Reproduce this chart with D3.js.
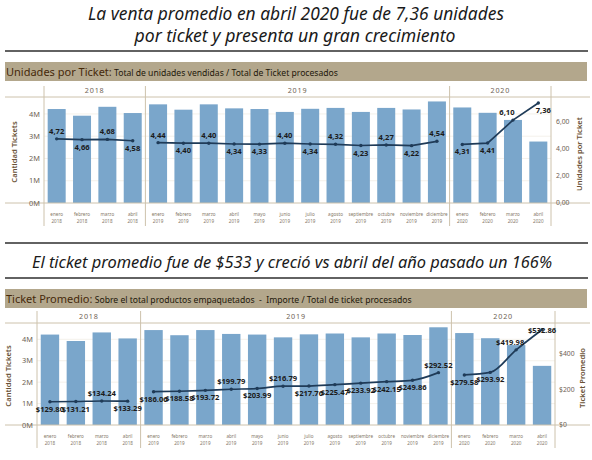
<!DOCTYPE html>
<html>
<head>
<meta charset="utf-8">
<script src="https://cdn.jsdelivr.net/npm/d3@7"></script>
<style>
  body { margin: 0; background: #fff; }
  text { font-family: "Noto Sans", "Open Sans", sans-serif; }
</style>
</head>
<body>
<script>
// data
const monthNames = ["enero", "febrero", "marzo", "abril",
  "enero", "febrero", "marzo", "abril", "mayo", "junio", "julio", "agosto",
  "septiembre", "octubre", "noviembre", "diciembre",
  "enero", "febrero", "marzo", "abril"];
const monthYears = ["2018", "2018", "2018", "2018",
  "2019", "2019", "2019", "2019", "2019", "2019", "2019", "2019", "2019", "2019", "2019", "2019",
  "2020", "2020", "2020", "2020"];
const yearGroups = ["2018", "2019", "2020"];

// Cantidad Tickets (bars, both charts)
const tickets = [4.22e6, 3.92e6, 4.32e6, 4.04e6,
  4.43e6, 4.19e6, 4.43e6, 4.25e6, 4.22e6, 4.09e6, 4.23e6, 4.27e6, 4.09e6, 4.27e6, 4.20e6, 4.56e6,
  4.29e6, 4.05e6, 3.73e6, 2.76e6];
// Unidades por Ticket (line, chart 1)
const unitsPerTicket = [4.72, 4.66, 4.68, 4.58,
  4.44, 4.40, 4.40, 4.34, 4.33, 4.40, 4.34, 4.32, 4.23, 4.27, 4.22, 4.54,
  4.31, 4.41, 6.10, 7.36];
// Ticket Promedio (line, chart 2)
const avgTicket = [129.80, 131.21, 134.24, 133.29,
  186.06, 188.58, 193.72, 199.79, 203.99, 216.79, 217.76, 225.47, 233.92, 242.15, 249.86, 292.52,
  279.58, 293.92, 419.98, 532.86];

const ticketTicks = [0, 1e6, 2e6, 3e6, 4e6];
const unitsTicks = [0, 2, 4, 6];
const avgTicks = [0, 200, 400];

// where each value label sits (a above, b below, al above-left, br below-right, c on the point)
const unitsLabelSide = ["a", "b", "a", "b",
  "a", "b", "a", "b", "b", "a", "b", "a", "b", "a", "b", "a",
  "b", "b", "al", "br"];
const avgLabelSide = ["b", "b", "a", "b",
  "b", "b", "b", "a", "b", "a", "b", "b", "b", "b", "b", "a",
  "b", "b", "al", "c"];

const W = 592, H = 460;
const barColor = "#7aa6cb", lineColor = "#1f3b58", ruleColor = "#cdc2ac";
const headerFill = "#b3a78c";

const svg = d3.select("body").append("svg")
  .attr("width", W).attr("height", H);

const fmtComma = (v) => d3.format(".2f")(v).replace(".", ",");
const fmtDollar = (v) => "$" + d3.format(".2f")(v);

function title(y, txt, size, len, cx) {
  svg.append("text")
    .attr("x", cx).attr("y", y)
    .attr("text-anchor", "middle")
    .attr("font-size", size).attr("font-style", "italic")
    .attr("fill", "#1a1a1a")
    .attr("textLength", len).attr("lengthAdjust", "spacingAndGlyphs")
    .text(txt);
}

function rule(y) {
  svg.append("line")
    .attr("x1", 5).attr("x2", 588).attr("y1", y).attr("y2", y)
    .attr("stroke", "#2e2e2e").attr("stroke-width", 1.4);
}

function header(y, bold, rest) {
  svg.append("rect").attr("x", 5).attr("y", y).attr("width", 582).attr("height", 19)
    .attr("fill", headerFill);
  const t = svg.append("text").attr("x", 6).attr("y", y + 13.5)
    .attr("xml:space", "preserve");
  t.append("tspan").attr("font-size", 11).attr("fill", "#46290a").text(bold);
  t.append("tspan").attr("font-size", 8.6).attr("fill", "#22170a").text(rest);
}

function chart(o) {
  const g = svg.append("g");
  const x = d3.scaleBand()
    .domain(d3.range(monthNames.length))
    .range([o.x0, o.x1])
    .paddingInner(0.29).paddingOuter(0.145);
  const step = x.step();
  const yL = d3.scaleLinear().domain([0, 4.76e6]).range([o.bottom, o.top]);
  const yR = d3.scaleLinear().domain(o.rDomain).range([o.bottom, o.top]);

  // faint gridlines
  g.append("g").selectAll("line").data(ticketTicks.slice(1)).join("line")
    .attr("x1", o.x0).attr("x2", o.x1)
    .attr("y1", (d) => yL(d)).attr("y2", (d) => yL(d))
    .attr("stroke", "#f1ede6").attr("stroke-width", 0.8);

  // bars
  g.append("g").selectAll("rect").data(tickets).join("rect")
    .attr("x", (d, i) => x(i))
    .attr("y", (d) => yL(d))
    .attr("width", x.bandwidth())
    .attr("height", (d) => o.bottom - yL(d))
    .attr("fill", barColor);

  // frame lines
  g.append("line").attr("x1", 5).attr("x2", 590)
    .attr("y1", o.top).attr("y2", o.top)
    .attr("stroke", ruleColor).attr("stroke-width", 1);
  g.append("line").attr("x1", 5).attr("x2", 590)
    .attr("y1", o.bottom).attr("y2", o.bottom)
    .attr("stroke", ruleColor).attr("stroke-width", 1);

  // panel separators and year headers
  const bounds = [];
  yearGroups.forEach((yr) => {
    const idx = monthYears.map((m, i) => (m === yr ? i : -1)).filter((i) => i >= 0);
    bounds.push({ yr, a: o.x0 + idx[0] * step, b: o.x0 + (idx[idx.length - 1] + 1) * step, idx });
  });
  const seps = [bounds[0].a].concat(bounds.map((b) => b.b));
  g.append("g").selectAll("line").data(seps).join("line")
    .attr("x1", (d) => d).attr("x2", (d) => d)
    .attr("y1", o.sepTop).attr("y2", o.sepBottom)
    .attr("stroke", ruleColor).attr("stroke-width", 1);
  g.append("g").selectAll("text").data(bounds).join("text")
    .attr("x", (d) => (d.a + d.b) / 2).attr("y", o.top - 4)
    .attr("text-anchor", "middle").attr("font-size", 7.2)
    .attr("letter-spacing", 0.8).attr("fill", "#6f6355")
    .text((d) => d.yr);

  // month labels
  const ml = g.append("g").selectAll("text").data(monthNames).join("text")
    .attr("text-anchor", "middle").attr("fill", "#857868").attr("font-size", 4.6);
  ml.append("tspan").attr("x", (d, i) => x(i) + x.bandwidth() / 2).attr("y", o.bottom + 13)
    .text((d) => d);
  ml.append("tspan").attr("x", (d, i) => x(i) + x.bandwidth() / 2).attr("y", o.bottom + 20)
    .text((d, i) => monthYears[i]);

  // left axis
  g.append("g").selectAll("text").data(ticketTicks).join("text")
    .attr("x", o.leftLabelX).attr("y", (d) => yL(d) + 2.6)
    .attr("text-anchor", "end").attr("font-size", 7.4).attr("fill", "#6f6355")
    .text((d) => d / 1e6 + "M");
  g.append("text")
    .attr("transform", `translate(${o.leftTitleX},${(o.top + o.bottom) / 2 + 2}) rotate(-90)`)
    .attr("text-anchor", "middle").attr("font-size", 7.6).attr("font-weight", 600)
    .attr("fill", "#6a5236").text("Cantidad Tickets");

  // right axis
  g.append("g").selectAll("text").data(o.rTicks).join("text")
    .attr("x", o.rightLabelX).attr("y", (d) => yR(d) + 2.4)
    .attr("font-size", 6.8).attr("fill", "#6f6355")
    .text(o.rTickFmt);
  g.append("text")
    .attr("transform", `translate(${o.rightTitleX},${(o.top + o.bottom) / 2 + 4}) rotate(-90)`)
    .attr("text-anchor", "middle").attr("font-size", 7.6).attr("font-weight", 600)
    .attr("fill", "#6a5236").text(o.rTitle);

  // line per year
  const cx = (i) => x(i) + x.bandwidth() / 2;
  const line = d3.line()
    .x((i) => cx(i))
    .y((i) => yR(o.values[i]))
    .curve(o.curve);
  g.append("g").selectAll("path").data(bounds).join("path")
    .attr("d", (d) => line(d.idx))
    .attr("fill", "none").attr("stroke", lineColor).attr("stroke-width", 1.7);
  g.append("g").selectAll("circle").data(o.values).join("circle")
    .attr("cx", (d, i) => cx(i)).attr("cy", (d) => yR(d)).attr("r", 1.7)
    .attr("fill", lineColor);

  // value labels
  const off = {
    a: [0, -5], b: [0, 10], al: [-6, -5], br: [5, 10], c: [0, 3]
  };
  g.append("g").selectAll("text").data(o.values).join("text")
    .attr("x", (d, i) => cx(i) + off[o.sides[i]][0])
    .attr("y", (d, i) => yR(d) + off[o.sides[i]][1])
    .attr("text-anchor", "middle")
    .attr("font-size", 7.6).attr("font-weight", 700).attr("fill", "#1b1b1b")
    .text(o.valueFmt);
}

// top section
title(20, "La venta promedio en abril 2020 fue de 7,36 unidades", 18, 416, 296);
title(42, "por ticket y presenta un gran crecimiento", 18, 321, 295);
rule(51);
header(62, "Unidades por Ticket:", " Total de unidades vendidas / Total de Ticket procesados");

chart({
  x0: 44, x1: 551, top: 97, bottom: 203, sepTop: 86, sepBottom: 226,
  leftLabelX: 40, leftTitleX: 17, rightLabelX: 556, rightTitleX: 582,
  rDomain: [0, 7.8], rTicks: unitsTicks, rTickFmt: fmtComma,
  rTitle: "Unidades por Ticket", values: unitsPerTicket, sides: unitsLabelSide,
  valueFmt: fmtComma, curve: d3.curveLinear
});

// bottom section
rule(243);
title(268, "El ticket promedio fue de $533 y creció vs abril del año pasado un 166%", 17, 520, 292);
rule(278);
header(289, "Ticket Promedio:", " Sobre el total productos empaquetados  -  Importe / Total de ticket procesados");

chart({
  x0: 37, x1: 555, top: 323, bottom: 425, sepTop: 311, sepBottom: 448,
  leftLabelX: 33, leftTitleX: 11, rightLabelX: 559, rightTitleX: 585,
  rDomain: [0, 570], rTicks: avgTicks, rTickFmt: (d) => "$" + d,
  rTitle: "Ticket Promedio", values: avgTicket, sides: avgLabelSide,
  valueFmt: fmtDollar, curve: d3.curveMonotoneX
});
</script>
</body>
</html>
